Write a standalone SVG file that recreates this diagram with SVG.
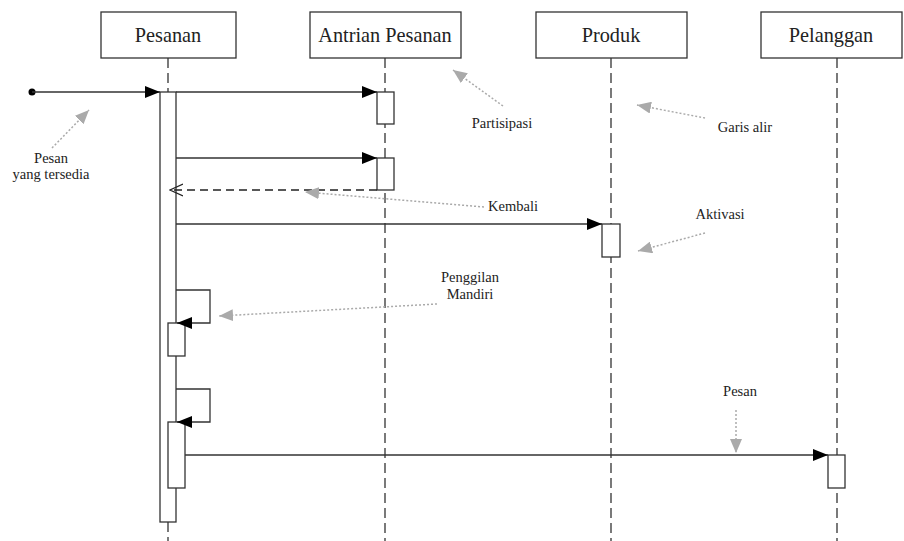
<svg xmlns="http://www.w3.org/2000/svg" width="904" height="541" viewBox="0 0 904 541">
<style>
.box{fill:#fff;stroke:#333;stroke-width:1.3}
.hdr{font-family:'Liberation Serif','Times New Roman','DejaVu Serif',serif;font-size:20.3px;fill:#222;text-anchor:middle}
.life{stroke:#333;stroke-width:1.3;stroke-dasharray:10,5;fill:none}
.act{fill:#fff;stroke:#333;stroke-width:1.3}
.msg{stroke:#333;stroke-width:1.3;fill:none;marker-end:url(#fill)}
.ret{stroke:#222;stroke-width:1.3;fill:none;stroke-dasharray:8,5;marker-end:url(#open)}
.note{stroke:#aaa;stroke-width:1.5;stroke-dasharray:2,2;fill:none;marker-end:url(#gray)}
.lbl{font-family:'Liberation Serif','Times New Roman','DejaVu Serif',serif;font-size:14.5px;fill:#222;text-anchor:middle}
</style>
<defs>
<marker id="fill" markerUnits="userSpaceOnUse" markerWidth="15" markerHeight="12" refX="15" refY="6" orient="auto"><path d="M0,0 L15,6 L0,12 z" fill="#000"/></marker>
<marker id="open" markerUnits="userSpaceOnUse" markerWidth="14" markerHeight="14" refX="13" refY="7" orient="auto"><path d="M0,1 L13,7 L0,13" fill="none" stroke="#222" stroke-width="1.2"/></marker>
<marker id="gray" markerUnits="userSpaceOnUse" markerWidth="14" markerHeight="12" refX="14" refY="6" orient="auto"><path d="M0,0 L14,6 L0,12 z" fill="#aaa"/></marker>
</defs>

<g id="pesanan">
<rect class="box" x="101" y="12" width="135" height="46"/>
<text class="hdr" x="168" y="42">Pesanan</text>
<line class="life" x1="168" y1="58" x2="168" y2="92"/>
<line class="life" x1="168" y1="522" x2="168" y2="541"/>
<rect class="act" x="160" y="92" width="16" height="430"/>
<rect class="act" x="168" y="323" width="17" height="33"/>
<rect class="act" x="168" y="422" width="17" height="66"/>
</g>

<g id="antrian">
<rect class="box" x="310" y="12" width="151" height="46"/>
<text class="hdr" x="385" y="42">Antrian Pesanan</text>
<line class="life" x1="385" y1="58" x2="385" y2="541"/>
<rect class="act" x="377" y="92" width="17" height="32"/>
<rect class="act" x="377" y="158" width="17" height="32"/>
</g>

<g id="produk">
<rect class="box" x="536" y="12" width="151" height="46"/>
<text class="hdr" x="611" y="42">Produk</text>
<line class="life" x1="611" y1="58" x2="611" y2="541"/>
<rect class="act" x="602" y="224" width="18" height="33"/>
</g>

<g id="pelanggan">
<rect class="box" x="761" y="12" width="141" height="46"/>
<text class="hdr" x="831" y="42">Pelanggan</text>
<line class="life" x1="837" y1="58" x2="837" y2="541"/>
<rect class="act" x="828" y="455" width="17" height="33"/>
</g>

<g id="connectors">
<circle cx="32" cy="92" r="3.5" fill="#000"/>
<line class="msg" x1="32" y1="92" x2="160" y2="92"/>
<line class="msg" x1="176" y1="92" x2="377" y2="92"/>
<line class="msg" x1="176" y1="158" x2="377" y2="158"/>
<line class="ret" x1="377" y1="190" x2="170" y2="190"/>
<line class="msg" x1="176" y1="224" x2="602" y2="224"/>
<path class="msg" d="M176,290 H210 V323 H177"/>
<path class="msg" d="M176,389 H210 V422 H177"/>
<line class="msg" x1="185" y1="455" x2="828" y2="455"/>
</g>

<g id="annotations">
<line class="note" x1="52" y1="148" x2="89" y2="110"/>
<text class="lbl" x="51" y="163">Pesan</text>
<text class="lbl" x="51" y="179">yang tersedia</text>

<line class="note" x1="503" y1="106" x2="453" y2="70"/>
<text class="lbl" x="502" y="128">Partisipasi</text>

<line class="note" x1="705" y1="118" x2="637" y2="105"/>
<text class="lbl" x="745" y="132">Garis alir</text>

<line class="note" x1="484" y1="207" x2="305" y2="192"/>
<text class="lbl" x="513" y="211">Kembali</text>

<line class="note" x1="705" y1="233" x2="638" y2="251"/>
<text class="lbl" x="720" y="219">Aktivasi</text>

<line class="note" x1="437" y1="304" x2="219" y2="316"/>
<text class="lbl" x="470" y="282">Penggilan</text>
<text class="lbl" x="470" y="299">Mandiri</text>

<line class="note" x1="736" y1="410" x2="736" y2="453"/>
<text class="lbl" x="740" y="396">Pesan</text>
</g>
</svg>
